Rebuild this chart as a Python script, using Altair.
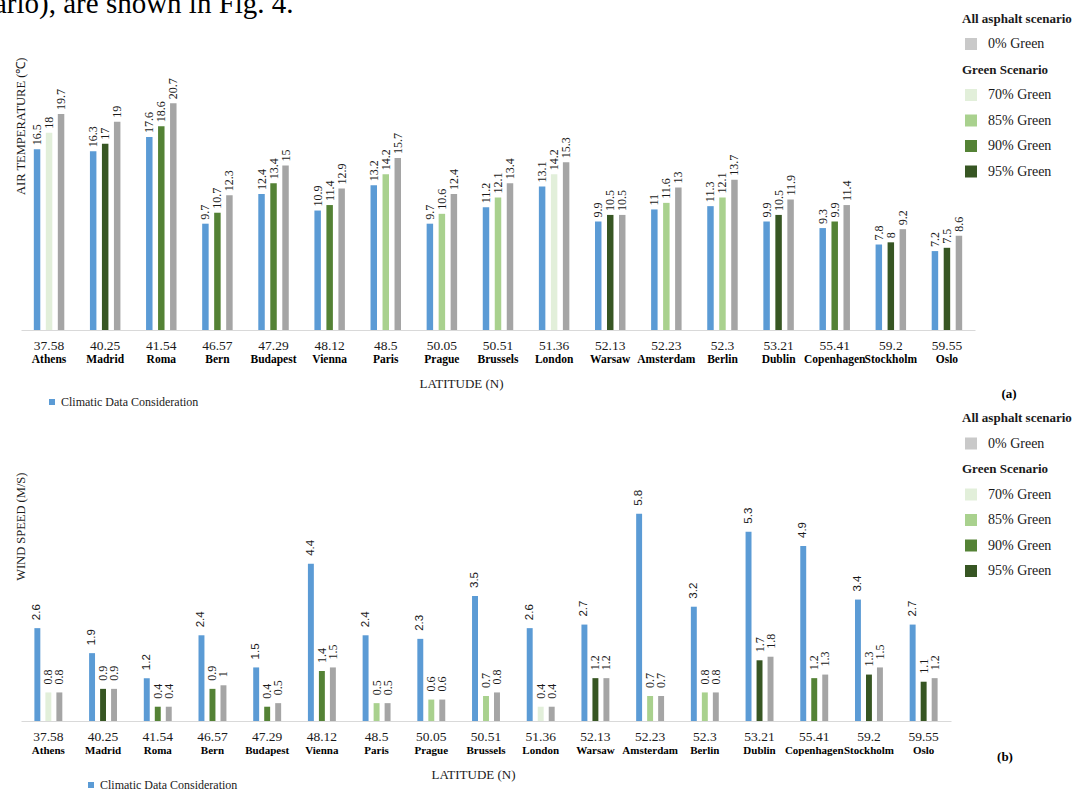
import altair as alt
import pandas as pd

# ---------------- data ----------------
cities = ["Athens", "Madrid", "Roma", "Bern", "Budapest", "Vienna", "Paris", "Prague",
          "Brussels", "London", "Warsaw", "Amsterdam", "Berlin", "Dublin", "Copenhagen",
          "Stockholm", "Oslo"]
latitudes = ["37.58", "40.25", "41.54", "46.57", "47.29", "48.12", "48.5", "50.05", "50.51",
             "51.36", "52.13", "52.23", "52.3", "53.21", "55.41", "59.2", "59.55"]
green_level = ["70% Green", "95% Green", "90% Green", "90% Green", "90% Green", "90% Green",
               "85% Green", "85% Green", "85% Green", "70% Green", "95% Green", "85% Green",
               "85% Green", "95% Green", "90% Green", "95% Green", "95% Green"]

temp_climatic = [16.5, 16.3, 17.6, 9.7, 12.4, 10.9, 13.2, 9.7, 11.2, 13.1, 9.9, 11, 11.3, 9.9, 9.3, 7.8, 7.2]
temp_green = [18, 17, 18.6, 10.7, 13.4, 11.4, 14.2, 10.6, 12.1, 14.2, 10.5, 11.6, 12.1, 10.5, 9.9, 8, 7.5]
temp_asphalt = [19.7, 19, 20.7, 12.3, 15, 12.9, 15.7, 12.4, 13.4, 15.3, 10.5, 13, 13.7, 11.9, 11.4, 9.2, 8.6]

wind_climatic = [2.6, 1.9, 1.2, 2.4, 1.5, 4.4, 2.4, 2.3, 3.5, 2.6, 2.7, 5.8, 3.2, 5.3, 4.9, 3.4, 2.7]
wind_green = [0.8, 0.9, 0.4, 0.9, 0.4, 1.4, 0.5, 0.6, 0.7, 0.4, 1.2, 0.7, 0.8, 1.7, 1.2, 1.3, 1.1]
wind_asphalt = [0.8, 0.9, 0.4, 1, 0.5, 1.5, 0.5, 0.6, 0.8, 0.4, 1.2, 0.7, 0.8, 1.8, 1.3, 1.5, 1.2]

green_labels = ["70% Green", "85% Green", "90% Green", "95% Green"]
green_colors = ["#E2EFDA", "#A9D18E", "#548235", "#375623"]
BLUE = "#5B9BD5"
GRAY = "#A5A5A5"
SERIF = "Liberation Serif"
SANS = "Liberation Sans"
INK = "#1a1a1a"


def long_df(clim, green, asph):
    rows = []
    for i, c in enumerate(cities):
        for slot, grp, lab, v in [("a", "clim", "Climatic Data Consideration", clim[i]),
                                  ("b", "green", green_level[i], green[i]),
                                  ("c", "asphalt", "0% Green", asph[i])]:
            rows.append(dict(city=c, slot=slot, group=grp, label=lab, value=v, txt=f"{v:g}"))
    return pd.DataFrame(rows)


label_df = pd.DataFrame({"city": cities, "lat": latitudes})


def panel(df, width, height, ymax, ytitle, pad_inner, lat_title_x, leg, tag, tag_pos,
          val_dx, blue_font, blue_size, city_size, header=False):
    xaxis = alt.Axis(title="LATITUDE (N)", labels=False, ticks=False, grid=False,
                     domain=True, domainColor="#D9D9D9", domainWidth=1,
                     titleFont=SERIF, titleFontSize=13, titleFontWeight="normal",
                     titleColor=INK, titlePadding=47, titleX=lat_title_x)
    xenc = alt.X("city:N", sort=cities,
                 scale=alt.Scale(paddingInner=pad_inner, paddingOuter=pad_inner / 2),
                 axis=xaxis)
    xoff = alt.XOffset("slot:N", scale=alt.Scale(domain=["a", "b", "c"],
                                                 paddingInner=0.46, paddingOuter=0.23))
    yenc = alt.Y("value:Q", scale=alt.Scale(domain=[0, ymax]),
                 axis=alt.Axis(title=ytitle, labels=False, ticks=False, domain=False, grid=False,
                               titleFont=SERIF, titleFontSize=12.5, titleFontWeight="normal",
                               titleColor=INK, titleAngle=270, titleAlign="right",
                               titleBaseline="middle", titleX=-1, titleY=1))
    base = alt.Chart(df)
    common_leg = dict(orient="none", symbolType="square", symbolStrokeWidth=0,
                      labelFont=SERIF, labelColor=INK, titleFont=SERIF, titleColor=INK,
                      titleFontWeight="bold", padding=0)

    clim = base.transform_filter("datum.group == 'clim'").mark_bar().encode(
        x=xenc, xOffset=xoff, y=yenc,
        color=alt.Color("label:N",
                        scale=alt.Scale(domain=["Climatic Data Consideration"], range=[BLUE]),
                        legend=alt.Legend(title=None, legendX=leg["bx"], legendY=leg["by"],
                                          symbolSize=36, labelFontSize=12, labelOffset=3,
                                          **common_leg)))
    green = base.transform_filter("datum.group == 'green'").mark_bar().encode(
        x=xenc, xOffset=xoff, y=yenc,
        color=alt.Color("label:N",
                        scale=alt.Scale(domain=green_labels, range=green_colors),
                        legend=alt.Legend(title="Green Scenario", legendX=941, legendY=leg["gy"],
                                          symbolSize=144, symbolOffset=2, labelOffset=10,
                                          labelFontSize=14, titleFontSize=13, titlePadding=11.5,
                                          rowPadding=11.5, **common_leg)))
    asph = base.transform_filter("datum.group == 'asphalt'").mark_bar().encode(
        x=xenc, xOffset=xoff, y=yenc,
        color=alt.Color("label:N",
                        scale=alt.Scale(domain=["0% Green"], range=[GRAY]),
                        legend=alt.Legend(title="All asphalt scenario", legendX=941,
                                          legendY=leg["ay"], symbolSize=144, symbolOffset=2,
                                          symbolOpacity=0.6, labelOffset=10, labelFontSize=14,
                                          titleFontSize=13, titlePadding=11.5, rowPadding=11.5,
                                          **common_leg)))

    vals_clim = base.transform_filter("datum.group == 'clim'").mark_text(
        angle=270, align="left", baseline="middle", dx=val_dx, font=blue_font,
        fontSize=blue_size, color=INK).encode(x=xenc, xOffset=xoff, y=yenc, text="txt:N")
    vals_other = base.transform_filter("datum.group != 'clim'").mark_text(
        angle=270, align="left", baseline="middle", dx=val_dx, font=SERIF,
        fontSize=12, color=INK).encode(x=xenc, xOffset=xoff, y=yenc, text="txt:N")

    lat_txt = alt.Chart(label_df).mark_text(font=SERIF, fontSize=13.5, baseline="middle",
                                            color=INK).encode(
        x=xenc, y=alt.value(height + 16), text="lat:N")
    city_txt = alt.Chart(label_df).mark_text(font=SERIF, fontSize=city_size, fontWeight="bold",
                                             baseline="middle", color="#000").encode(
        x=xenc, y=alt.value(height + 30), text="city:N")
    tag_txt = alt.Chart(pd.DataFrame({"t": [tag]})).mark_text(
        font=SERIF, fontSize=13, fontWeight="bold", color="#000", baseline="middle",
        align="center").encode(text="t:N", x=alt.value(tag_pos[0]), y=alt.value(tag_pos[1]))

    layers = [clim, green, asph, vals_clim, vals_other, lat_txt, city_txt, tag_txt]
    if header:
        head = alt.Chart(pd.DataFrame({"t": ["ario), are shown in Fig. 4."]})).mark_text(
            font=SERIF, fontSize=29, align="left", baseline="alphabetic", color="#000").encode(
            text="t:N", x=alt.value(-27), y=alt.value(-43))
        layers.append(head)
    return alt.layer(*layers).resolve_scale(color="independent").properties(
        width=width, height=height)


temp_df = long_df(temp_climatic, temp_green, temp_asphalt)
wind_df = long_df(wind_climatic, wind_green, wind_asphalt)

panel_a = panel(temp_df, 954, 274, 25, "AIR TEMPERATURE (\u2103)", 0.3585, 440,
                dict(bx=25, by=340, gy=7.5, ay=-43.5), "(a)", (988, 338), 4, SERIF, 12, 11.5,
                header=True)
panel_b = panel(wind_df, 930, 250, 7, "WIND SPEED (M/S)", 0.397, 452,
                dict(bx=64, by=308, gy=-8, ay=-59), "(b)", (984, 286), 8, SANS, 11.5, 11)

chart = alt.vconcat(panel_a, panel_b, spacing=141, bounds="flush").resolve_scale(
    color="independent", xOffset="independent").properties(
    padding={"left": -6, "top": -10, "right": 2, "bottom": 0}
).configure(font=SERIF, background="white").configure_view(strokeWidth=0, stroke="transparent")

chart.save("out.html", embed_options={"renderer": "svg", "actions": False})
